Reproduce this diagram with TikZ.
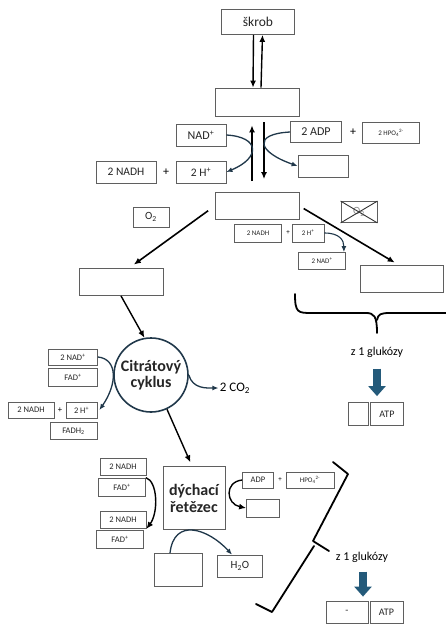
\documentclass[tikz,border=0pt]{standalone}
\usepackage{fontspec}
\setmainfont{Carlito}
\usetikzlibrary{shapes, arrows, arrows.meta, calc, positioning}
\definecolor{boxgray}{RGB}{95,95,95}
\definecolor{curveblue}{RGB}{32,56,74}
\definecolor{fatblue}{RGB}{36,90,122}
\tikzstyle{block} = [rectangle, draw=boxgray, line width=0.8pt, inner sep=0pt, text centered, text=black!85]
\tikzstyle{line} = [draw, -{Latex[length=7pt, width=6pt]}, line width=1.4pt]
\tikzstyle{curve} = [draw=curveblue, -{Latex[length=6pt, width=5pt]}, line width=1.3pt]
\tikzstyle{brace} = [draw, line width=1.8pt, line join=round, line cap=round]
\tikzstyle{fat} = [draw=fatblue, line width=8pt, -{Triangle[width=17pt,length=10pt]}]
\tikzstyle{big} = [font=\fontsize{12}{14}\selectfont]
\tikzstyle{mid} = [font=\fontsize{8.5}{10}\selectfont]
\tikzstyle{small} = [font=\fontsize{7}{8}\selectfont]
\tikzstyle{bold} = [font=\fontsize{16}{19}\selectfont\bfseries, align=center]
\tikzset{wh/.style 2 args={minimum width=#1pt, minimum height=#2pt}}

\begin{document}
\begin{tikzpicture}[x=1pt, y=-1pt]
\fill[white] (0,0) rectangle (446,624);
\useasboundingbox (0,0) rectangle (446,624);

% glykolyza
\node [block, wh={73}{25}, font=\fontsize{13.5}{15}\selectfont] (skrob) at (258,22) {škrob};
\node [block, wh={84}{28}] (glukoza) at (257,102) {};
\node [block, big, wh={50}{22}] (nad) at (201,135) {NAD\textsuperscript{+}};
\node [block, big, wh={51}{21}] (adp) at (316,132) {2 ADP};
\node [big] (plusa) at (353,132) {+};
\node [block, small, wh={57}{21}] (hpo) at (391,133) {2 HPO\textsubscript{4}\textsuperscript{2-}};
\node [block, wh={50}{22}] (atpglyk) at (323,166) {};
\node [block, font=\fontsize{11.5}{13}\selectfont, wh={60}{22}] (nadh) at (126,172) {2 NADH};
\node [big] (plusb) at (166,172) {+};
\node [block, font=\fontsize{11.5}{13}\selectfont, wh={50}{22}] (hplus) at (201,172) {2 H\textsuperscript{+}};
\node [block, wh={84}{27}] (pyruvat) at (257,206) {};

\path [line] ([xshift=-4.5pt]skrob.south) -- ([xshift=-4pt]glukoza.north);
\path [line] ([xshift=4pt]glukoza.north) -- ([xshift=4.5pt]skrob.south);
\path [line, shorten <=11pt, shorten >=9pt] ([xshift=-5pt]pyruvat.north) -- ([xshift=-5pt]glukoza.south);
\path [line, shorten <=6pt, shorten >=13pt] ([xshift=7pt]glukoza.south) -- ([xshift=7pt]pyruvat.north);
\path [curve] (nad.east) .. controls +(34,2) and +(34,-14) .. (hplus.east);
\path [curve] (adp.west) .. controls +(-38,2) and +(-40,-14) .. (atpglyk.west);

% aerobni a anaerobni vetev
\node [block, font=\fontsize{11}{13}\selectfont, wh={36}{20}] (kyslik) at (151,217) {O\textsubscript{2}};
\node [block, font=\fontsize{11}{13}\selectfont, text=black!45, wh={36}{21}] (bezkysliku) at (359,212) {O\textsubscript{2}};
\draw [black!80, line width=0.9pt] (bezkysliku.north west) -- (bezkysliku.south east);
\draw [black!80, line width=0.9pt] (bezkysliku.south west) -- (bezkysliku.north east);
\node [block, small, wh={47}{18}] (nadhs) at (258,233) {2 NADH};
\node [small] (plusc) at (288,233) {+};
\node [block, small, wh={32}{18}] (hpluss) at (308,233) {2 H\textsuperscript{+}};
\node [block, small, wh={47}{17}] (nadplus) at (322,261) {2 NAD\textsuperscript{+}};
\node [block, wh={84}{27}] (acetyl) at (121,282) {};
\node [block, wh={83}{27}] (kvaseni) at (402,279) {};

\path [line, line width=1.6pt, shorten <=8pt, shorten >=6pt] (pyruvat.west) -- ([xshift=8pt]acetyl.north);
\path [line, line width=1.6pt, shorten <=5pt, shorten >=5pt] (pyruvat.east) -- ([xshift=-3pt]kvaseni.north);
\path [curve, line width=1.1pt] (hpluss.east) .. controls +(15,0) and +(0,-12) .. ([xshift=-2pt]nadplus.north east);

% bilance kvaseni
\draw [brace] (295,294) .. controls (295,313) and (298,313) .. (312,313) -- (366,313)
  .. controls (374,313) and (377,316) .. (377,333);
\draw [brace] (377,320) .. controls (378,314) and (381,313) .. (390,313) -- (450,313);
\node [big] (glukozy1) at (377,352) {z 1 glukózy};
\node [block, wh={20}{23}] (pocet1) at (358,414) {};
\node [block, font=\fontsize{10}{12}\selectfont, wh={33}{23}] (atp1) at (387,414) {ATP};
\path [fat, shorten <=8pt, shorten >=6pt] (glukozy1.south) -- (glukozy1 |- atp1.north);

% citratovy cyklus
\node [circle, draw=curveblue, line width=1.6pt, minimum size=74pt, inner sep=0pt, bold, text=black!85] (citrat) at (151,375) {Citrátový\\[-3pt]cyklus};
\node [font=\fontsize{13}{15}\selectfont] (co2) at (235,388) {2 CO\textsubscript{2}};
\node [block, mid, wh={49}{16}] (nadc) at (73,357) {2 NAD\textsuperscript{+}};
\node [block, mid, wh={49}{18}] (fadc) at (73,377) {FAD\textsuperscript{+}};
\node [block, mid, wh={46}{16}] (nadhc) at (31,410) {2 NADH};
\node [mid] (plusd) at (60,410) {+};
\node [block, mid, wh={31}{16}] (hc) at (81.5,410) {2 H\textsuperscript{+}};
\node [block, mid, wh={47}{17}] (fadh) at (73.5,431) {FADH\textsubscript{2}};

\path [line] (acetyl.south) -- (citrat.100);
\path [curve] (citrat.east) .. controls +(4,14) and +(-12,0) .. ([xshift=2pt]co2.west);
\path [curve] (nadc.east) .. controls +(20,2) and +(18,-26) .. ([xshift=2pt]hc.east);

% dychaci retezec
\node [block, bold, wh={62}{63}, line width=1pt] (dychaci) at (194,498) {dýchací\\[-2pt]řetězec};
\node [block, mid, wh={46}{17}] (nadh1) at (123,467) {2 NADH};
\node [block, mid, wh={47}{18}] (fad1) at (122,487) {FAD\textsuperscript{+}};
\node [block, mid, wh={46}{17}] (nadh2) at (123,520) {2 NADH};
\node [block, mid, wh={47}{18}] (fad2) at (120,539) {FAD\textsuperscript{+}};
\node [block, mid, wh={31}{16}] (adp2) at (258,480) {ADP};
\node [small] (pluse) at (280,480) {+};
\node [block, small, wh={48}{16}] (hpo2) at (310,480) {HPO\textsubscript{4}\textsuperscript{2-}};
\node [block, wh={33}{18}] (atpdych) at (263,508) {};
\node [block, wh={48}{33}] (vystup) at (178,570) {};
\node [block, font=\fontsize{11}{13}\selectfont, wh={45}{22}] (h2o) at (240,566) {H\textsubscript{2}O};

\path [line, shorten >=4pt] (citrat.-65) -- ([xshift=-2pt]dychaci.north);
\path [line] (fad1.north east) .. controls +(12,4) and +(12,-16) .. (nadh2.south east);
\path [line] (adp2.west) .. controls +(-18,2) and +(-20,-4) .. (atpdych.west);
\path [curve] ([xshift=-8pt]vystup.north) .. controls +(4,-36) and +(-24,-26) .. ([xshift=-8pt]h2o.north);

% bilance dychani
\draw [brace] (333,462) -- (348,474) -- (313,541) -- (329,551);
\draw [brace] (314,546) -- (272,612) -- (256,604);
\node [big] (glukozy2) at (362,557) {z 1 glukózy};
\node [block, font=\fontsize{10}{12}\selectfont, wh={42}{22}] (pocet2) at (347,612) {-};
\node [block, font=\fontsize{10}{12}\selectfont, wh={33}{22}] (atp2) at (386.5,612) {ATP};
\path [fat, shorten <=6pt, shorten >=4pt] ([xshift=1pt]glukozy2.south) -- ([xshift=1pt]glukozy2.south |- pocet2.north);
\end{tikzpicture}
\end{document}
